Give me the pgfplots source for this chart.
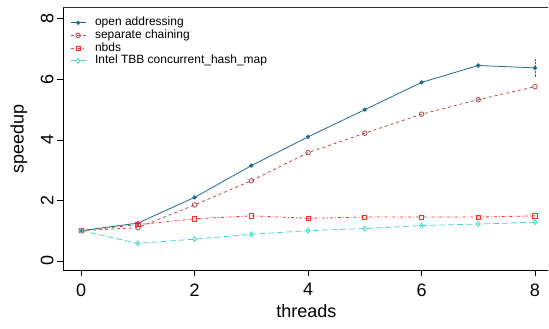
\documentclass[border=0pt]{standalone}
\usepackage{pgfplots}
\pgfplotsset{compat=1.18}
\usepackage{fontspec}
\setmainfont{Liberation Sans}
\definecolor{oa}{HTML}{1B6D8C}
\definecolor{sc}{HTML}{B34848}
\definecolor{nb}{HTML}{FF2A2A}
\definecolor{tbb}{HTML}{46D9CB}
\newcommand{\lf}{\fontsize{12}{13}\selectfont}
\begin{document}
\begin{tikzpicture}
\begin{axis}[
  width=485pt, height=262pt, scale only axis,
  xmin=-0.32, xmax=8.23, ymin=-0.3, ymax=8.36,
  axis lines=left, axis line style={-, line width=0.8pt},
  tick align=outside, major tick length=6pt,
  tick style={line width=0.8pt, black},
  xtick={0,2,4,6,8}, ytick={0,2,4,6,8},
  /pgf/number format/assume math mode=true,
  ticklabel style={font=\fontsize{18}{18}\selectfont},
  yticklabel style={rotate=90, anchor=south},
  xticklabel shift=4pt,
  xlabel={threads}, ylabel={speedup},
  label style={font=\fontsize{18}{18}\selectfont},
  xlabel style={at={(axis description cs:0.502,-0.1565)}, anchor=center},
  ylabel style={at={(axis description cs:-0.0907,0.5)}, anchor=center},
  clip=false,
  every axis plot/.append style={legend image code/.code={
    \draw[mark repeat=2,mark phase=2,##1] plot coordinates {(0pt,0pt) (7.5pt,0pt) (15pt,0pt)};}},
  legend style={at={(0,1)}, anchor=north west, draw=none, fill=none,
    xshift=7pt, yshift=-8.5pt,
    inner sep=0pt, row sep=0.7pt, column sep=9pt,
    nodes={inner sep=0pt, text height=9pt, text depth=3pt},
    cells={anchor=west}},
  legend cell align=left,
]
\path (rel axis cs:0,1) ++(-63pt,8pt);
\path (rel axis cs:1,0) ++(1pt,-58pt);
\addplot[color=oa, line width=0.8pt, mark=*, mark size=1.7pt,
  error bars/.cd, y dir=both, y explicit, error bar style={densely dotted, line width=0.8pt}, error mark=none]
  coordinates {(0,1.0) +- (0,0) (1,1.25) +- (0,0) (2,2.1) +- (0,0) (3,3.15) +- (0,0) (4,4.1) +- (0,0) (5,5.0) +- (0,0) (6,5.9) +- (0,0) (7,6.46) +- (0,0.05) (8,6.38) +- (0,0.3)};
\addlegendentry{\lf open addressing}
\addplot[color=sc, line width=0.8pt, dashed, mark=o, mark size=2.3pt, mark options={solid}]
  coordinates {(0,1.0) (1,1.1) (2,1.85) (3,2.65) (4,3.58) (5,4.22) (6,4.85) (7,5.33) (8,5.76)};
\addlegendentry{\lf separate chaining}
\addplot[color=nb, line width=0.8pt, dash dot, mark=square, mark size=2.1pt, mark options={solid, draw=nb}]
  coordinates {(0,1.0) (1,1.2) (2,1.39) (3,1.49) (4,1.41) (5,1.45) (6,1.45) (7,1.45) (8,1.49)};
\addlegendentry{\lf nbds}
\addplot[color=tbb, line width=0.8pt, dash pattern=on 6pt off 3pt, mark=diamond, mark size=2.5pt, mark options={solid}]
  coordinates {(0,1.0) (1,0.58) (2,0.72) (3,0.88) (4,1.0) (5,1.07) (6,1.17) (7,1.22) (8,1.28)};
\addlegendentry{\lf Intel TBB concurrent\_hash\_map}
\draw[color=black!80, line width=1pt] (axis description cs:0,1) -- (axis description cs:1,1);
\end{axis}
\end{tikzpicture}
\end{document}
